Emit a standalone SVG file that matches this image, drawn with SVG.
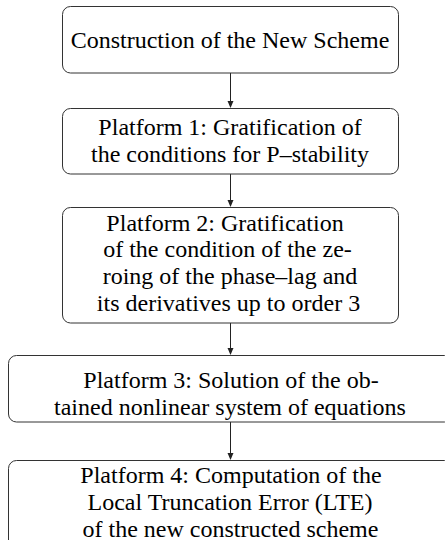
<svg xmlns="http://www.w3.org/2000/svg" width="445" height="540" viewBox="0 0 445 540">
<style>
.box{fill:#fff;stroke:#333;stroke-width:1}
.c{stroke:#222;stroke-width:1;fill:none}
.h{fill:#222;stroke:none}
</style>
<rect width="445" height="540" fill="#fff"/>
<g id="connectors">
<line class="c" x1="230.5" y1="73" x2="230.5" y2="102"/>
<path class="h" d="M227.5,101 L230.5,108 L233.5,101 Z"/>
<line class="c" x1="230.5" y1="174" x2="230.5" y2="201"/>
<path class="h" d="M227.5,200 L230.5,207 L233.5,200 Z"/>
<line class="c" x1="230.5" y1="323" x2="230.5" y2="349"/>
<path class="h" d="M227.5,348 L230.5,355 L233.5,348 Z"/>
<line class="c" x1="230.5" y1="422" x2="230.5" y2="454"/>
<path class="h" d="M227.5,453 L230.5,460 L233.5,453 Z"/>
</g>
<g id="n1">
<rect class="box" x="62.5" y="6.5" width="336" height="66.5" rx="8"/>
<text x="230" y="48" font-family="Liberation Serif" font-size="24" text-anchor="middle">Construction of the New Scheme</text>
</g>
<g id="n2">
<rect class="box" x="62.5" y="108.5" width="336" height="65.5" rx="8"/>
<text x="230" y="135" font-family="Liberation Serif" font-size="24" text-anchor="middle">Platform 1: Gratification of</text>
<text x="230" y="162" font-family="Liberation Serif" font-size="24" text-anchor="middle">the conditions for P–stability</text>
</g>
<g id="n3">
<rect class="box" x="62.5" y="207.5" width="336" height="115.5" rx="8"/>
<text x="225" y="231" font-family="Liberation Serif" font-size="24" text-anchor="middle">Platform 2: Gratification</text>
<text x="227.5" y="257" font-family="Liberation Serif" font-size="24" text-anchor="middle">of the condition of the ze-</text>
<text x="230" y="284" font-family="Liberation Serif" font-size="24" text-anchor="middle">roing of the phase–lag and</text>
<text x="228.5" y="310.5" font-family="Liberation Serif" font-size="24" text-anchor="middle">its derivatives up to order 3</text>
</g>
<g id="n4">
<rect class="box" x="8.5" y="355.5" width="444" height="66.5" rx="8"/>
<text x="231" y="388" font-family="Liberation Serif" font-size="24" text-anchor="middle">Platform 3: Solution of the ob-</text>
<text x="230" y="415" font-family="Liberation Serif" font-size="24" text-anchor="middle">tained nonlinear system of equations</text>
</g>
<g id="n5">
<rect class="box" x="8.5" y="460.5" width="444" height="100" rx="8"/>
<text x="231" y="483" font-family="Liberation Serif" font-size="24" text-anchor="middle">Platform 4: Computation of the</text>
<text x="230" y="510" font-family="Liberation Serif" font-size="24" text-anchor="middle">Local Truncation Error (LTE)</text>
<text x="230.5" y="536.5" font-family="Liberation Serif" font-size="24" text-anchor="middle">of the new constructed scheme</text>
</g>
</svg>
